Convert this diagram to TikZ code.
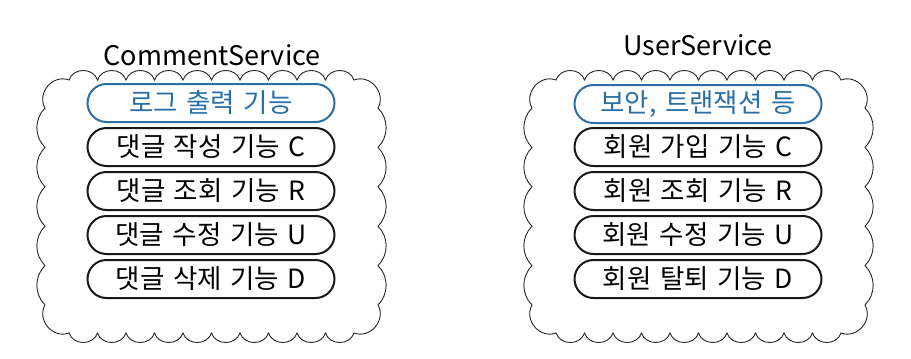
\documentclass[tikz,border=0pt]{standalone}
\usepackage{fontspec}
\setmainfont{Noto Sans CJK KR}
\definecolor{aopblue}{HTML}{2A70A6}
\newcommand{\pillfont}{\fontsize{26.5}{26.5}\selectfont\spaceskip=8.5pt plus 2pt minus 1pt\relax}
\tikzset{
  cloudline/.style={draw=black!85, line width=0.9pt},
  pill/.style={draw=black!90, line width=2pt, rounded corners=19pt,
    minimum width=247pt, minimum height=38pt, inner sep=0pt,
    font=\pillfont},
  bluepill/.style={pill, draw=aopblue, text=aopblue},
  title/.style={font=\fontsize{27}{27}\selectfont, inner sep=0pt}
}
% #1 X0, #2 Y0, #3 X1, #4 Y1 (cusp rectangle)
\newcommand{\cloudbox}[4]{%
  \draw[cloudline]
    ({#1},{#2+28})
    to[bend left=70, looseness=1.2] ({#1+24},{#2})
    \foreach \i in {1,...,10} { to[bend left=72, looseness=1.2] ({#1+24+(#3-#1-48)*\i/10},{#2}) }
    to[bend left=70, looseness=1.2] ({#3},{#2+28})
    \foreach \j in {1,...,5} { to[bend left=45] ({#3},{#2+28+(#4-#2-56)*\j/5}) }
    to[bend left=70, looseness=1.2] ({#3-24},{#4})
    \foreach \i in {1,...,10} { to[bend left=72, looseness=1.2] ({#3-24-(#3-#1-48)*\i/10},{#4}) }
    to[bend left=70, looseness=1.2] ({#1},{#4-28})
    \foreach \j in {1,...,5} { to[bend left=45] ({#1},{#4-28-(#4-#2-56)*\j/5}) }
    -- cycle;
}
\begin{document}
\begin{tikzpicture}[x=1pt,y=-1pt]
\useasboundingbox (0,0) rectangle (911,359);
\cloudbox{45}{80}{378}{333}
\cloudbox{532}{80}{865}{333}
\node[title] (t1) at (212,55) {CommentService};
\node[title] (t2) at (698,45) {UserService};
\node[bluepill] (l1) at (211,103) {로그 출력 기능};
\node[pill] (l2) at (211,147) {댓글 작성 기능 C};
\node[pill] (l3) at (211,191) {댓글 조회 기능 R};
\node[pill] (l4) at (211,235) {댓글 수정 기능 U};
\node[pill] (l5) at (211,279) {댓글 삭제 기능 D};
\node[bluepill] (r1) at (698,104) {보안, 트랜잭션 등};
\node[pill] (r2) at (698,147) {회원 가입 기능 C};
\node[pill] (r3) at (698,191) {회원 조회 기능 R};
\node[pill] (r4) at (698,235) {회원 수정 기능 U};
\node[pill] (r5) at (698,279) {회원 탈퇴 기능 D};
\end{tikzpicture}
\end{document}
